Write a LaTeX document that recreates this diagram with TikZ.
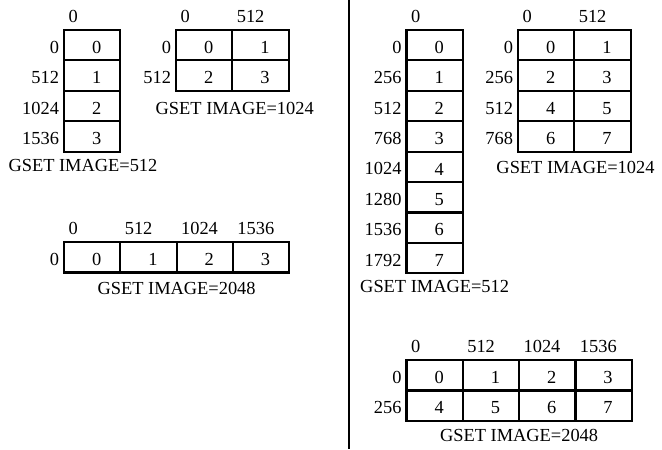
\documentclass[tikz,border=0pt]{standalone}
\usepackage{fontspec}
\setmainfont{Liberation Serif}
\newfontfamily\gsetfont{Liberation Serif}
\usetikzlibrary{positioning}
\begin{document}
\begin{tikzpicture}[
  x=0.5pt, y=-0.5pt,
  node distance=0pt,
  every node/.style={font=\gsetfont\fontsize{9.2pt}{11pt}\selectfont, inner sep=0pt, outer sep=0pt},
  cell/.style={draw, line width=1.1pt, minimum width=28.15pt, minimum height=15.2pt, text height=8.2pt, execute at begin node={\hspace*{4.5pt}}},
  xlab/.style={anchor=south west, xshift=2.25pt, yshift=3.8pt},
  ylab/.style={text height=8.2pt},
  gset/.style={anchor=north}
]
\useasboundingbox (0,0) rectangle (662,449);

% Left half: GSET IMAGE=512
\node[cell, anchor=north west] (a0) at (64,30) {0};
\node[cell, below=of a0] (a1) {1};
\node[cell, below=of a1] (a2) {2};
\node[cell, below=of a2] (a3) {3};
\node[xlab] (a-x0) at (a0.north west) {0};
\node[ylab, left=2.5pt of a0] (a-y0) {0};
\node[ylab, left=2.5pt of a1] (a-y1) {512};
\node[ylab, left=2.5pt of a2] (a-y2) {1024};
\node[ylab, left=2.5pt of a3] (a-y3) {1536};
\node[gset, xshift=-4.6pt, yshift=-4pt] (a-cap) at (a3.south) {GSET IMAGE=512};

% Left half: GSET IMAGE=1024
\node[cell, anchor=north west] (b0) at (176,30) {0};
\node[cell, right=of b0] (b1) {1};
\node[cell, below=of b0] (b2) {2};
\node[cell, right=of b2] (b3) {3};
\node[xlab] (b-x0) at (b0.north west) {0};
\node[xlab] (b-x1) at (b1.north west) {512};
\node[ylab, left=2.5pt of b0] (b-y0) {0};
\node[ylab, left=2.5pt of b2] (b-y1) {512};
\node[gset, xshift=1.2pt, yshift=-5.6pt] (b-cap) at (b2.south east) {GSET IMAGE=1024};

% Left half: GSET IMAGE=2048
\node[cell, anchor=north west] (c0) at (64,242) {0};
\node[cell, right=of c0] (c1) {1};
\node[cell, right=of c1] (c2) {2};
\node[cell, right=of c2] (c3) {3};
\node[xlab] (c-x0) at (c0.north west) {0};
\node[xlab] (c-x1) at (c1.north west) {512};
\node[xlab] (c-x2) at (c2.north west) {1024};
\node[xlab] (c-x3) at (c3.north west) {1536};
\node[ylab, left=2.5pt of c0] (c-y0) {0};
\node[gset, yshift=-4.8pt] (c-cap) at (c1.south east) {GSET IMAGE=2048};

% Divider
\coordinate (split-top) at (349.3,0);
\coordinate (split-bot) at (349.3,449);
\draw[line width=1.1pt] (split-top) -- (split-bot);

% Right half: GSET IMAGE=512
\node[cell, anchor=north west] (d0) at (406.5,30) {0};
\node[cell, below=of d0] (d1) {1};
\node[cell, below=of d1] (d2) {2};
\node[cell, below=of d2] (d3) {3};
\node[cell, below=of d3] (d4) {4};
\node[cell, below=of d4] (d5) {5};
\node[cell, below=of d5] (d6) {6};
\node[cell, below=of d6] (d7) {7};
\node[xlab] (d-x0) at (d0.north west) {0};
\node[ylab, left=2.5pt of d0] (d-y0) {0};
\node[ylab, left=2.5pt of d1] (d-y1) {256};
\node[ylab, left=2.5pt of d2] (d-y2) {512};
\node[ylab, left=2.5pt of d3] (d-y3) {768};
\node[ylab, left=2.5pt of d4] (d-y4) {1024};
\node[ylab, left=2.5pt of d5] (d-y5) {1280};
\node[ylab, left=2.5pt of d6] (d-y6) {1536};
\node[ylab, left=2.5pt of d7] (d-y7) {1792};
\node[gset, yshift=-3.5pt] (d-cap) at (d7.south) {GSET IMAGE=512};

% Right half: GSET IMAGE=1024
\node[cell, anchor=north west] (e0) at (518,30) {0};
\node[cell, right=of e0] (e1) {1};
\node[cell, below=of e0] (e2) {2};
\node[cell, right=of e2] (e3) {3};
\node[cell, below=of e2] (e4) {4};
\node[cell, right=of e4] (e5) {5};
\node[cell, below=of e4] (e6) {6};
\node[cell, right=of e6] (e7) {7};
\node[xlab] (e-x0) at (e0.north west) {0};
\node[xlab] (e-x1) at (e1.north west) {512};
\node[ylab, left=2.5pt of e0] (e-y0) {0};
\node[ylab, left=2.5pt of e2] (e-y1) {256};
\node[ylab, left=2.5pt of e4] (e-y2) {512};
\node[ylab, left=2.5pt of e6] (e-y3) {768};
\node[gset, xshift=0.6pt, yshift=-4.8pt] (e-cap) at (e6.south east) {GSET IMAGE=1024};

% Right half: GSET IMAGE=2048
\node[cell, anchor=north west] (f0) at (406.5,360) {0};
\node[cell, right=of f0] (f1) {1};
\node[cell, right=of f1] (f2) {2};
\node[cell, right=of f2] (f3) {3};
\node[cell, below=of f0] (f4) {4};
\node[cell, right=of f4] (f5) {5};
\node[cell, right=of f5] (f6) {6};
\node[cell, right=of f6] (f7) {7};
\node[xlab] (f-x0) at (f0.north west) {0};
\node[xlab] (f-x1) at (f1.north west) {512};
\node[xlab] (f-x2) at (f2.north west) {1024};
\node[xlab] (f-x3) at (f3.north west) {1536};
\node[ylab, left=2.5pt of f0] (f-y0) {0};
\node[ylab, left=2.5pt of f4] (f-y1) {256};
\node[gset, yshift=-4pt] (f-cap) at (f5.south east) {GSET IMAGE=2048};
\end{tikzpicture}
\end{document}
